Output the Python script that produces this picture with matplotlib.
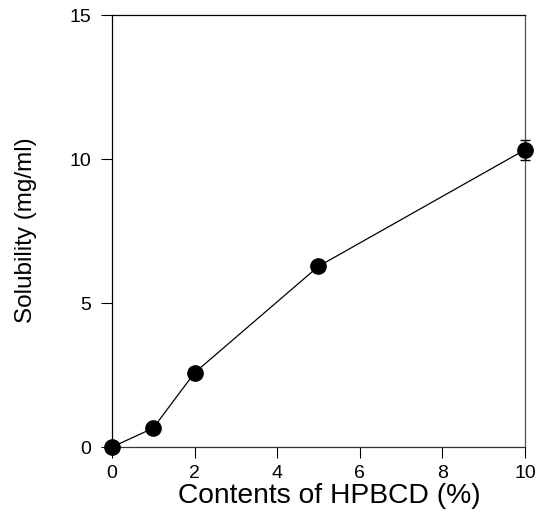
import numpy as np
import matplotlib
matplotlib.use('Agg')
import matplotlib.pyplot as plt

# data
hpbcd = [0, 1, 2, 5, 10]
solubility = [0.0, 0.66, 2.58, 6.28, 10.33]
sol_err = [0.0, 0.0, 0.0, 0.0, 0.35]

plt.rcParams['font.family'] = ['Liberation Sans', 'DejaVu Sans']

fig = plt.figure(figsize=(5.38, 5.26), dpi=100)
ax = fig.add_axes([0.208, 0.150, 0.768, 0.821])

ax.errorbar(hpbcd, solubility, yerr=sol_err, fmt='-o', color='black',
            lw=0.9, ms=11, capsize=3.5, elinewidth=1.0, clip_on=False, zorder=3)

ax.set_xlim(0, 10)
ax.set_ylim(0, 15)
ax.set_xticks([0, 2, 4, 6, 8, 10])
ax.set_yticks([0, 5, 10, 15])
ax.tick_params(direction='out', length=8, width=0.8, labelsize=14)
ax.tick_params(axis='x', pad=5)
ax.tick_params(axis='y', pad=7)
for s in ax.spines.values():
    s.set_linewidth(0.9)
ax.spines['right'].set_color('#555555')
ax.spines['bottom'].set_color('#333333')

ax.set_xlabel('Contents of HPBCD (%)', fontsize=20.3)
ax.set_ylabel('Solubility (mg/ml)', fontsize=17.5)
ax.xaxis.set_label_coords(0.525, -0.083)
ax.yaxis.set_label_coords(-0.182, 0.502)

fig.savefig('out.png', dpi=100)
